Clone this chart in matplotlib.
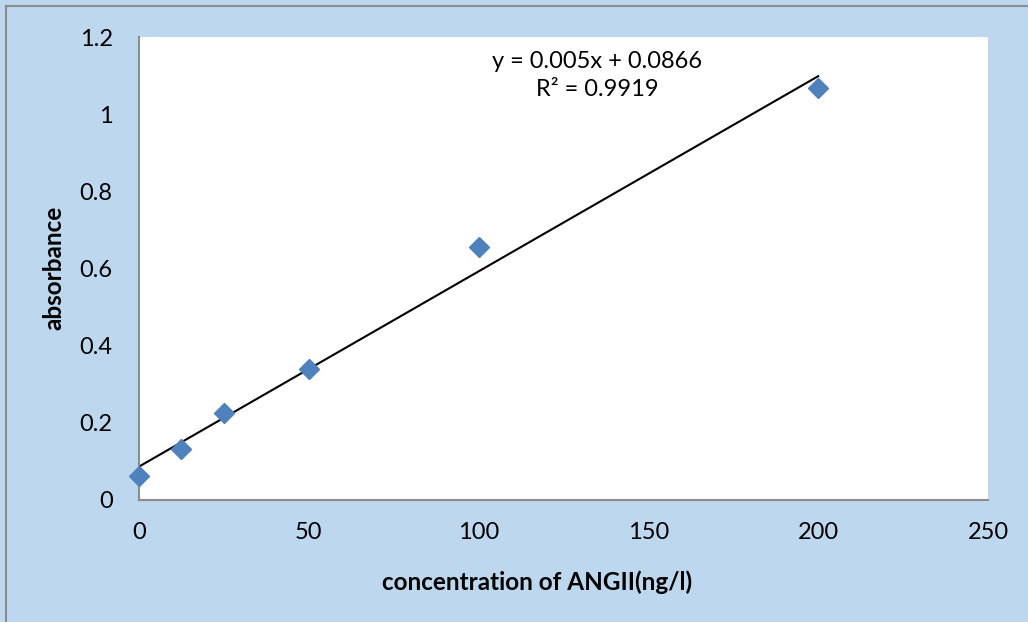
import numpy as np
import matplotlib
matplotlib.use("Agg")
import matplotlib.pyplot as plt
from matplotlib.lines import Line2D

# Data
concentration = [0, 12.5, 25, 50, 100, 200]
absorbance = [0.062, 0.132, 0.225, 0.339, 0.655, 1.067]
x_ticks = [0, 50, 100, 150, 200, 250]
y_ticks = [0, 0.2, 0.4, 0.6, 0.8, 1.0, 1.2]
y_tick_labels = ["0", "0.2", "0.4", "0.6", "0.8", "1", "1.2"]
equation_text = "y = 0.005x + 0.0866"
r2_text = "R² = 0.9919"
x_label = "concentration of ANGII(ng/l)"
y_label = "absorbance"

plt.rcParams['font.family'] = ['Lato', 'DejaVu Sans']

W, H = 1028, 622
fig = plt.figure(figsize=(W / 100, H / 100), dpi=100)
fig.patch.set_facecolor('#BDD7EE')

# outer border (left and top visible)
fig.add_artist(Line2D([6 / W, 6 / W], [0, 1 - 6 / H], transform=fig.transFigure,
                      color='#8C8C8C', lw=1.5))
fig.add_artist(Line2D([6 / W, 1], [1 - 6 / H, 1 - 6 / H], transform=fig.transFigure,
                      color='#8C8C8C', lw=1.5))

left, right, top, bottom = 139 / W, 988 / W, 37 / H, 500 / H
ax = fig.add_axes([left, 1 - bottom, right - left, bottom - top])
ax.set_facecolor('white')

# trendline
slope, intercept = np.polyfit(concentration, absorbance, 1)
xs = np.array([min(concentration), max(concentration)])
ax.plot(xs, slope * xs + intercept, color='black', lw=1.5, zorder=2)

ax.plot(concentration, absorbance, linestyle='none', marker='D', ms=10.5,
        color='#4F81BD', markeredgecolor='#4F81BD', zorder=3, clip_on=False)

ax.set_xlim(0, 250)
ax.set_ylim(0, 1.2)
ax.set_xticks(x_ticks)
ax.set_xticklabels([str(t) for t in x_ticks])
ax.set_yticks(y_ticks)
ax.set_yticklabels(y_tick_labels)
ax.tick_params(length=0, labelsize=17, pad=0)
ax.tick_params(axis='x', pad=16)
ax.tick_params(axis='y', pad=19)

for s in ['top', 'right']:
    ax.spines[s].set_visible(False)
for s in ['left', 'bottom']:
    ax.spines[s].set_color('#8C8C8C')
    ax.spines[s].set_linewidth(1.5)

fig.text(597 / W, 1 - 61 / H, equation_text, ha='center', va='center', fontsize=17)
fig.text(597 / W, 1 - 90 / H, r2_text, ha='center', va='center', fontsize=17)

fig.text(537 / W, 1 - 582 / H, x_label, ha='center', va='center', fontsize=17.5,
         fontweight='bold')
fig.text(54 / W, 1 - 268 / H, y_label, ha='center', va='center', fontsize=17.5,
         fontweight='bold', rotation=90)

fig.savefig('out.png', dpi=100, facecolor=fig.get_facecolor())
